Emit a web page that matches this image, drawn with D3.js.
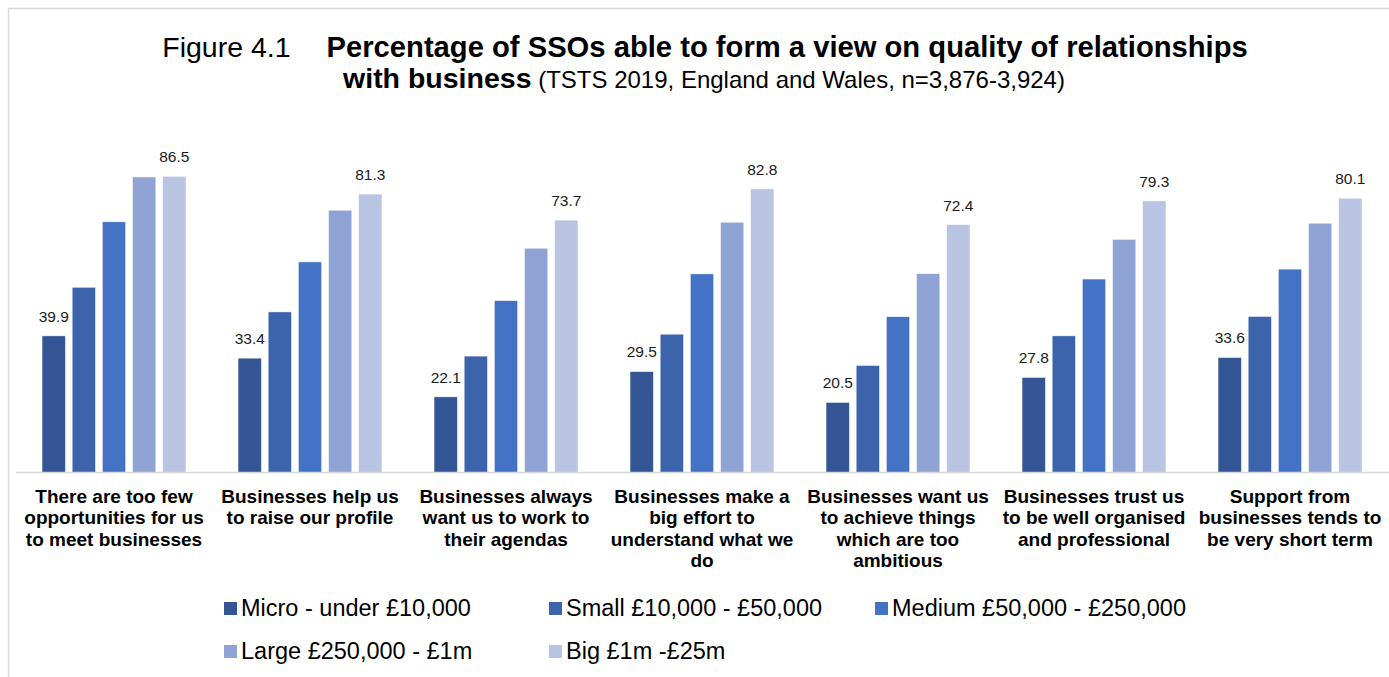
<!DOCTYPE html>
<html>
<head>
<meta charset="utf-8">
<script src="https://cdn.jsdelivr.net/npm/d3@7"></script>
<style>
  html, body { margin: 0; padding: 0; background: #fff; }
  svg { display: block; font-family: "Liberation Sans", Arial, sans-serif; }
</style>
</head>
<body>
<svg id="chart" width="1389" height="677"></svg>
<script>
// Statements about relationships with business (axis categories)
const categories = [
  "There are too few\nopportunities for us\nto meet businesses",
  "Businesses help us\nto raise our profile",
  "Businesses always\nwant us to work to\ntheir agendas",
  "Businesses make a\nbig effort to\nunderstand what we\ndo",
  "Businesses want us\nto achieve things\nwhich are too\nambitious",
  "Businesses trust us\nto be well organised\nand professional",
  "Support from\nbusinesses tends to\nbe very short term"
];

// Organisation size bands (series)
const seriesNames = [
  "Micro - under £10,000",
  "Small £10,000 - £50,000",
  "Medium £50,000 - £250,000",
  "Large £250,000 - £1m",
  "Big £1m -£25m"
];

// Percentages per size band, one value per category
const micro  = [39.9, 33.4, 22.1, 29.5, 20.5, 27.8, 33.6];
const small  = [54.1, 46.9, 34.0, 40.4, 31.3, 39.9, 45.6];
const medium = [73.2, 61.5, 50.2, 58.0, 45.5, 56.5, 59.4];
const large  = [86.3, 76.6, 65.5, 73.1, 58.1, 68.1, 72.8];
const big    = [86.5, 81.3, 73.7, 82.8, 72.4, 79.3, 80.1];

const seriesValues = [micro, small, medium, large, big];
const seriesColors = ["#335593", "#3c64ad", "#4472c4", "#8fa4d5", "#b9c3e2"];
// Only the smallest and largest bands carry value labels
const labelledSeries = [0, 4];

const svg = d3.select("#chart");

// Outer frame (top and left edges)
svg.append("line").attr("x1", 8).attr("x2", 1389).attr("y1", 8.5).attr("y2", 8.5)
  .attr("stroke", "#d9d9d9").attr("stroke-width", 1.5);
svg.append("line").attr("x1", 8.5).attr("x2", 8.5).attr("y1", 8).attr("y2", 677)
  .attr("stroke", "#d9d9d9").attr("stroke-width", 1.5);

// Title
const title = svg.append("text").attr("text-anchor", "middle").attr("fill", "#000");
const t1 = title.append("tspan").attr("x", 705).attr("y", 57);
t1.append("tspan").attr("font-size", 28.5).text("Figure 4.1");
t1.append("tspan").attr("dx", 36).attr("font-size", 29.2).attr("font-weight", "bold")
  .text("Percentage of SSOs able to form a view on quality of relationships");
const title2 = svg.append("text").attr("text-anchor", "middle").attr("fill", "#000")
  .attr("x", 704).attr("y", 88);
title2.append("tspan").attr("font-size", 28.5).attr("font-weight", "bold").text("with business");
title2.append("tspan").attr("font-size", 24).text(" (TSTS 2019, England and Wales, n=3,876-3,924)");

// Scales
const x0 = d3.scaleBand().domain(categories).range([16, 1388]).padding(0);
const x1 = d3.scaleBand().domain(d3.range(seriesNames.length))
  .range([26, x0.bandwidth() - 26]).paddingInner(0.22).paddingOuter(0);
const y = d3.scaleLinear().domain([0, 100]).range([472.5, 130]);

// Bars
const groups = svg.append("g").selectAll("g")
  .data(categories)
  .join("g")
  .attr("transform", d => `translate(${x0(d)},0)`);

groups.selectAll("rect")
  .data((d, i) => seriesValues.map((vals, s) => ({ s, v: vals[i] })))
  .join("rect")
  .attr("x", d => x1(d.s))
  .attr("width", x1.bandwidth())
  .attr("y", d => y(d.v))
  .attr("height", d => y(0) - y(d.v))
  .attr("fill", d => seriesColors[d.s])
  .attr("stroke", "#ffffff")
  .attr("stroke-width", 0.6);

// Value labels
groups.selectAll("text.val")
  .data((d, i) => labelledSeries.map(s => ({ s, v: seriesValues[s][i] })))
  .join("text")
  .attr("class", "val")
  .attr("x", d => x1(d.s) + x1.bandwidth() / 2)
  .attr("y", d => y(d.v) - 14)
  .attr("text-anchor", "middle")
  .attr("font-size", 15.5)
  .attr("fill", "#1a1a1a")
  .text(d => d.v.toFixed(1));

// Category axis
const xAxis = d3.axisBottom(x0).tickSize(0).tickFormat("");
const axisG = svg.append("g").attr("transform", `translate(0,${y(0)})`).call(xAxis);
axisG.select(".domain").attr("stroke", "#d9d9d9").attr("stroke-width", 1.5)
  .attr("d", `M16,0H1389`);

// Wrapped category labels
axisG.selectAll(".tick").each(function(d) {
  const lines = d.split("\n");
  const t = d3.select(this).append("text")
    .attr("text-anchor", "middle")
    .attr("font-size", 19)
    .attr("font-weight", "bold")
    .attr("fill", "#000");
  lines.forEach((ln, k) => {
    t.append("tspan").attr("x", 0).attr("y", 30 + k * 21.5).text(ln);
  });
});

// Legend
const legendPos = [
  [224, 616], [549, 616], [875, 616],
  [224, 659], [549, 659]
];
const legend = svg.append("g").selectAll("g")
  .data(seriesNames)
  .join("g")
  .attr("transform", (d, i) => `translate(${legendPos[i][0]},${legendPos[i][1]})`);
legend.append("rect")
  .attr("x", 0).attr("y", -14).attr("width", 13).attr("height", 13)
  .attr("fill", (d, i) => seriesColors[i]);
legend.append("text")
  .attr("x", 17).attr("y", 0)
  .attr("font-size", 23.5)
  .attr("fill", "#000")
  .text(d => d);
</script>
</body>
</html>
